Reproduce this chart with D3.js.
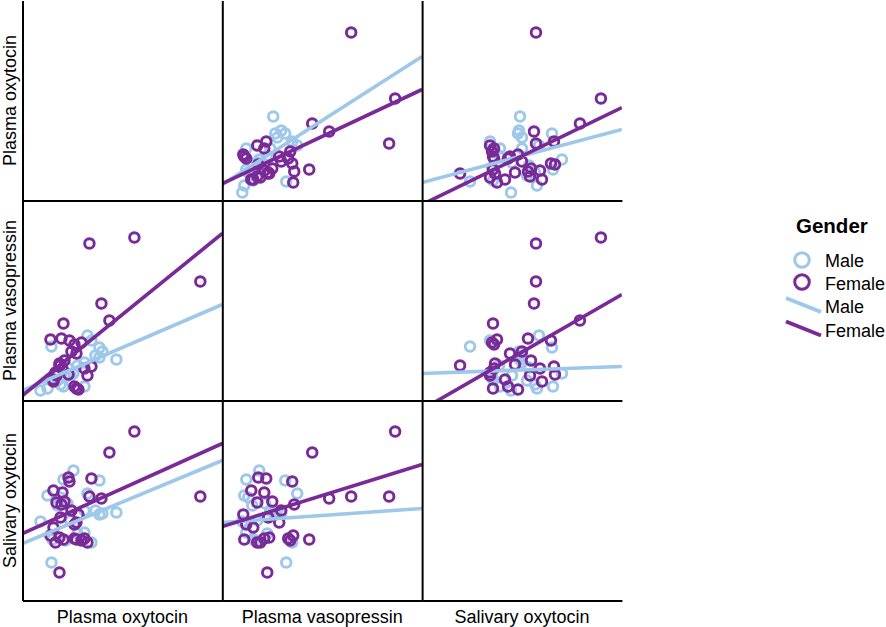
<!DOCTYPE html>
<html>
<head>
<meta charset="utf-8">
<script src="https://cdn.jsdelivr.net/npm/d3@7"></script>
<style>
  body { margin: 0; background: #fff; }
  text { font-family: "Liberation Sans", Arial, sans-serif; fill: #000; }
</style>
</head>
<body>
<div id="main"></div>
<script>
// variables of the matrix (rows top->bottom, columns left->right)
const variables = ['Plasma oxytocin', 'Plasma vasopressin', 'Salivary oxytocin'];
const genderLevels = ['Male', 'Female'];

// one entry per subject (arbitrary units)
const gender = [
  'Female', 'Female', 'Female', 'Female', 'Female', 'Female', 'Female', 'Female', 'Female', 'Female',
  'Female', 'Female', 'Female', 'Female', 'Female', 'Female', 'Female', 'Female', 'Female', 'Female',
  'Female', 'Female', 'Female', 'Female', 'Female', 'Female', 'Female', 'Female', 'Female',
  'Male', 'Male', 'Male', 'Male', 'Male', 'Male', 'Male', 'Male', 'Male', 'Male',
  'Male', 'Male', 'Male', 'Male', 'Male', 'Male', 'Male', 'Male', 'Male', 'Male', 'Male'
];
const plasmaOxytocin = [
  168, 102, 57, 69, 77, 27, 31, 49, 42, 37,
  29, 18, 44, 39, 59, 36, 30, 21, 24, 32,
  28, 21, 44, 42, 46, 55, 52, 23, 27,
  84, 67, 67, 63, 55, 52, 19, 8, 41, 31,
  59, 52, 20, 45, 70, 33, 35, 28, 38, 25, 15
];
const plasmaVasopressin = [
  119, 163, 157, 97, 80, 35, 77, 58, 56, 60,
  62, 61, 47, 49, 34, 26, 32, 19, 25, 40,
  36, 21, 12, 14, 11, 25, 32, 28, 37,
  41, 53, 43, 45, 65, 14, 54, 10, 27, 14,
  60, 38, 21, 35, 49, 24, 33, 16, 25, 20, 12
];
const salivaryOxytocin = [
  104, 169, 104, 102, 148, 28, 61, 60, 62, 119,
  96, 65, 78, 90, 122, 123, 108, 110, 98, 99,
  83, 73, 61, 76, 86, 58, 62, 58, 63,
  88, 120, 86, 90, 107, 68, 38, 79, 130, 121,
  58, 90, 61, 67, 87, 60, 97, 103, 80, 95, 105
];

// fitted lines: value of the row variable
// at the left and right edge of each cell [male, female]
const fitRow = [0, 0, 1, 1, 2, 2];
const fitCol = [1, 2, 0, 2, 0, 1];
const fitMale = [[16, 144], [18, 71], [10, 96], [27, 34], [57, 140], [78, 92]];
const fitFemale = [[17, 111], [-4, 93], [5, 167], [-9, 106], [67, 157], [74, 136]];

const colors = { Male: '#9dc8ea', Female: '#7a2a97' };

const svgWidth = 886;
const svgHeight = 627;
const cellW = 199.8;
const cellH = 200;
const originX = 22.5;
const originY = 0.5;

const values = [plasmaOxytocin, plasmaVasopressin, salivaryOxytocin];
const subjects = gender.map((g, i) => ({ gender: g, v: values.map((arr) => arr[i]) }));

const svg = d3.select('#main')
  .append('svg')
  .attr('width', svgWidth)
  .attr('height', svgHeight);

const defs = svg.append('defs');

function cellScales(row, col) {
  const left = originX + col * cellW;
  const bottom = originY + (row + 1) * cellH;
  const x = d3.scaleLinear().domain([-10, 190]).range([left, left + cellW]);
  const y = d3.scaleLinear().domain([0, 200]).range([bottom, bottom - cellH]);
  return { x, y, left, bottom };
}

variables.forEach((rowName, row) => {
  variables.forEach((colName, col) => {
    const { x, y, left, bottom } = cellScales(row, col);
    const g = svg.append('g');
    const clipId = `clip-${row}-${col}`;
    defs.append('clipPath').attr('id', clipId)
      .append('rect')
      .attr('x', left).attr('y', bottom - cellH)
      .attr('width', cellW).attr('height', cellH);

    if (row !== col) {
      const plot = g.append('g').attr('clip-path', `url(#${clipId})`);
      genderLevels.forEach((gl) => {
        plot.append('g').selectAll('circle')
          .data(subjects.filter((d) => d.gender === gl))
          .enter()
          .append('circle')
          .attr('cx', (d) => x(d.v[col]))
          .attr('cy', (d) => y(d.v[row]))
          .attr('r', 4.8)
          .attr('fill', 'none')
          .attr('stroke', colors[gl])
          .attr('stroke-width', 2.9);
      });
      const k = fitRow.findIndex((r, i) => r === row && fitCol[i] === col);
      const [xa, xb] = x.domain();
      [['Male', fitMale[k]], ['Female', fitFemale[k]]].forEach(([gl, ends]) => {
        plot.append('line')
          .attr('x1', x(xa)).attr('y1', y(ends[0]))
          .attr('x2', x(xb)).attr('y2', y(ends[1]))
          .attr('stroke', colors[gl])
          .attr('stroke-width', 3.6);
      });
    }

    // axis lines without ticks
    const yAxis = g.append('g')
      .attr('transform', `translate(${left}, 0)`)
      .call(d3.axisLeft(y).tickValues([]).tickSizeOuter(0));
    const xAxis = g.append('g')
      .attr('transform', `translate(0, ${bottom})`)
      .call(d3.axisBottom(x).tickValues([]).tickSizeOuter(0));
    [yAxis, xAxis].forEach((a) => a.select('.domain').attr('stroke', '#000').attr('stroke-width', 2));
  });
});

// column titles
svg.append('g').selectAll('text')
  .data(variables)
  .enter()
  .append('text')
  .attr('x', (d, i) => originX + i * cellW + cellW / 2)
  .attr('y', 623)
  .attr('text-anchor', 'middle')
  .attr('font-size', 18)
  .text((d) => d);

// row titles
svg.append('g').selectAll('text')
  .data(variables)
  .enter()
  .append('text')
  .attr('transform', (d, i) => `translate(16, ${originY + i * cellH + cellH / 2}) rotate(-90)`)
  .attr('text-anchor', 'middle')
  .attr('font-size', 18)
  .text((d) => d);

// legend
const legend = svg.append('g');
legend.append('text')
  .attr('x', 796).attr('y', 233)
  .attr('font-size', 20.5)
  .attr('font-weight', 'bold')
  .text('Gender');

genderLevels.forEach((gl, i) => {
  legend.append('circle')
    .attr('cx', 802).attr('cy', 260 + i * 22)
    .attr('r', 7.3)
    .attr('fill', 'none')
    .attr('stroke', colors[gl])
    .attr('stroke-width', 3);
  legend.append('text')
    .attr('x', 825).attr('y', 266.5 + i * 23)
    .attr('font-size', 18)
    .text(gl);
  legend.append('line')
    .attr('x1', 786).attr('y1', 298 + i * 23.5)
    .attr('x2', 821).attr('y2', 312 + i * 23.5)
    .attr('stroke', colors[gl])
    .attr('stroke-width', 4);
  legend.append('text')
    .attr('x', 825).attr('y', 313 + i * 23.5)
    .attr('font-size', 18)
    .text(gl);
});
</script>
</body>
</html>
